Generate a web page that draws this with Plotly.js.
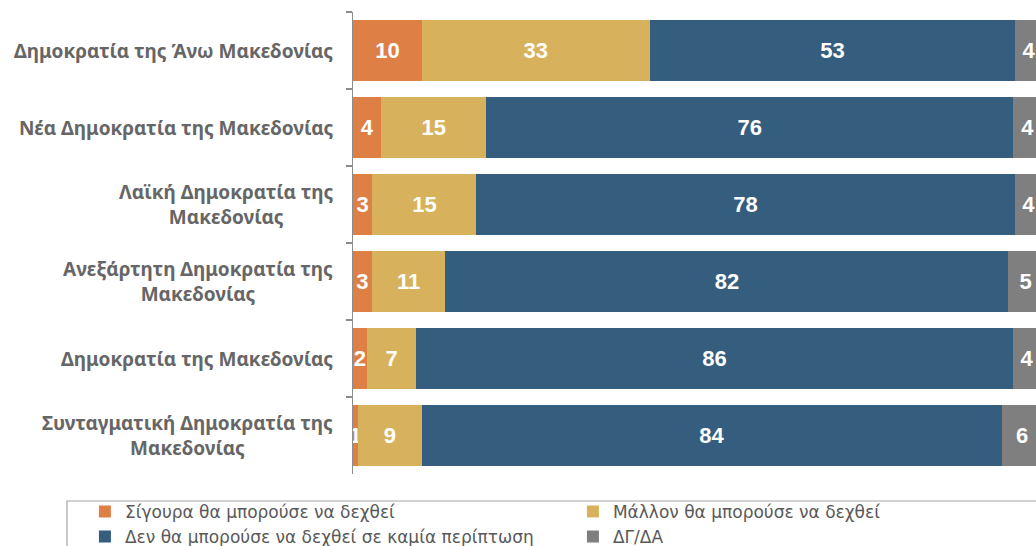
<!DOCTYPE html>
<html>
<head>
<meta charset="utf-8">
<script src="https://cdn.plot.ly/plotly-3.0.1.min.js"></script>
<style>html,body{margin:0;padding:0;background:#fff;}#chart{width:1036px;height:546px;}</style>
</head>
<body>
<div id="chart"></div>
<script>
// Categories (top to bottom)
var categories = [
  "Δημοκρατία της Άνω Μακεδονίας",
  "Νέα Δημοκρατία της Μακεδονίας",
  "Λαϊκή Δημοκρατία της<br>Μακεδονίας",
  "Ανεξάρτητη Δημοκρατία της<br>Μακεδονίας",
  "Δημοκρατία της Μακεδονίας",
  "Συνταγματική Δημοκρατία της<br>Μακεδονίας"
];
// Series values (%); labels show rounded values
var seriesNames = [
  "Σίγουρα θα μπορούσε να δεχθεί",
  "Μάλλον θα μπορούσε να δεχθεί",
  "Δεν θα μπορούσε να δεχθεί σε καμία περίπτωση",
  "ΔΓ/ΔΑ"
];
var sure    = [10, 4.1, 2.8, 2.7, 2.0, 0.7];
var rather  = [33, 15.2, 15.1, 10.7, 7.2, 9.3];
var never   = [53, 76.4, 78.0, 81.6, 86.4, 84.0];
var dkna    = [4, 4.2, 4.1, 5.0, 4.2, 6.0];
var colors  = ["#DE8046", "#D8B15C", "#355D7E", "#7F7F7F"];

var labelFont = {family: "Noto Sans, Liberation Sans, sans-serif", size: 19, color: "#666666", weight: "bold"};

var series = [sure, rather, never, dkna];
var traces = series.map(function(vals, i) {
  return {
    type: "bar",
    orientation: "h",
    name: seriesNames[i],
    y: categories,
    x: vals,
    marker: {color: colors[i], line: {width: 0}},
    texttemplate: "%{x:.0f}",
    textposition: "inside",
    insidetextanchor: "middle",
    textangle: 0,
    constraintext: "none",
    textfont: {family: "Liberation Sans, Arial, sans-serif", size: 22, color: "#FFFFFF", weight: "bold"},
    hoverinfo: "skip"
  };
});

// Category labels as centre-aligned multi-line text blocks, right-anchored at the axis
var catAnnotations = categories.map(function(c) {
  return {
    xref: "paper", yref: "y", x: 0, y: c,
    xanchor: "right", yanchor: "middle", align: "center",
    xshift: -18, showarrow: false,
    text: c, font: labelFont
  };
});

var layout = {
  width: 1036,
  height: 546,
  margin: {l: 353, r: 0, t: 12, b: 72, autoexpand: false},
  barmode: "stack",
  bargap: 0.21,
  paper_bgcolor: "#FFFFFF",
  plot_bgcolor: "#FFFFFF",
  showlegend: true,
  legend: {
    orientation: "h",
    x: -0.3925, xanchor: "left",
    y: -0.043, yanchor: "top",
    entrywidth: 443,
    entrywidthmode: "pixels",
    traceorder: "normal",
    bgcolor: "rgba(0,0,0,0)",
    font: {family: "DejaVu Sans, Liberation Sans, sans-serif", size: 17, color: "#595959"}
  },
  xaxis: {
    range: [0, 99],
    showgrid: false, zeroline: false, showticklabels: false, ticks: "", showline: false,
    fixedrange: true
  },
  yaxis: {
    autorange: "reversed",
    showgrid: false, zeroline: false,
    showline: true, linecolor: "#8C8C8C", linewidth: 1.5,
    ticks: "outside", tickson: "boundaries", ticklen: 6, tickcolor: "#8C8C8C", tickwidth: 1.5,
    showticklabels: false,
    fixedrange: true
  },
  annotations: catAnnotations,
  shapes: [{
    type: "rect", xref: "paper", yref: "paper",
    x0: (67 - 353) / 683, x1: 1.02,
    y0: -(501 - 474) / 462, y1: -0.3,
    line: {color: "#A6A6A6", width: 1.2}, fillcolor: "rgba(0,0,0,0)"
  }]
};

Plotly.newPlot("chart", traces, layout, {displayModeBar: false, staticPlot: true});
</script>
</body>
</html>
